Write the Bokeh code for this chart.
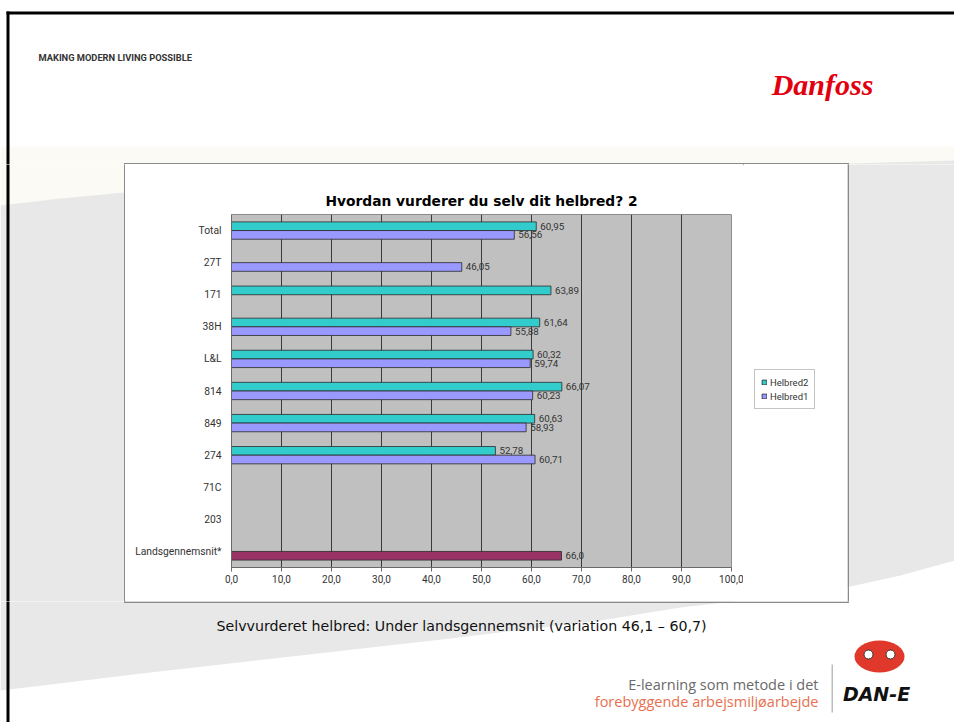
import numpy as np
from bokeh.plotting import figure
from bokeh.layouts import column, row
from bokeh.models import (FactorRange, Range1d, ColumnDataSource, LabelSet, Legend, LegendItem,
                          FixedTicker)
from bokeh.transform import dodge
from bokeh.core.properties import value
from bokeh.embed import file_html
from bokeh.resources import INLINE

# ---------------- data ----------------
categories = ["Total", "27T", "171", "38H", "L&L", "814", "849", "274", "71C", "203", "Landsgennemsnit*"]
helbred2 = [60.95, None, 63.89, 61.64, 60.32, 66.07, 60.63, 52.78, None, None, None]
helbred1 = [56.56, 46.05, None, 55.88, 59.74, 60.23, 58.93, 60.71, None, None, None]
landsgennemsnit = [None, None, None, None, None, None, None, None, None, None, 66.0]
x_ticks = [0, 10, 20, 30, 40, 50, 60, 70, 80, 90, 100]
x_tick_labels = ["0,0", "10,0", "20,0", "30,0", "40,0", "50,0", "60,0", "70,0", "80,0", "90,0", "100,0"]
series_names = ["Helbred2", "Helbred1"]
series_colors = ["#33CCCC", "#9999FF"]
land_color = "#993366"

title_text = "Hvordan vurderer du selv dit helbred? 2"
subtitle_text = "Selvvurderet helbred: Under landsgennemsnit (variation 46,1 \u2013 60,7)"
header_text = "MAKING MODERN LIVING POSSIBLE"
logo_text = "Danfoss"
footer_line1 = "E-learning som metode i det"
footer_line2 = "forebyggende arbejsmiljøarbejde"
dane_text = "DAN-E"


def make_source(vals, decimals):
    cats, v, lbl = [], [], []
    for c, x in zip(categories, vals):
        if x is not None:
            cats.append(c)
            v.append(x)
            lbl.append(f"{x:.{decimals}f}".replace(".", ","))
    return ColumnDataSource(dict(cat=cats, val=v, lbl=lbl))


src2 = make_source(helbred2, 2)
src1 = make_source(helbred1, 2)
srcL = make_source(landsgennemsnit, 1)

PAGE_W, PAGE_H = 954, 722
# chart box (page pixels)
BX0, BX1, BY0, BY1 = 125, 847, 164, 601
MAIN_X1 = 743  # right edge of the main chart canvas

# ---------------- main chart ----------------
p = figure(width=MAIN_X1 - BX0, height=BY1 - BY0,
           y_range=FactorRange(factors=categories[::-1]), x_range=Range1d(0, 100),
           output_backend="svg", toolbar_location=None,
           min_border_left=106, min_border_right=12, min_border_top=50, min_border_bottom=34)
p.frame_align = False
p.background_fill_color = "#C0C0C0"
p.border_fill_color = "white"
p.outline_line_color = "#8c8c8c"

p.title.text = title_text
p.title.align = "center"
p.title.offset = -5
p.title.standoff = 12
p.title.text_font = "DejaVu Sans"
p.title.text_font_size = "13.8px"
p.title.text_font_style = "bold"
p.title.text_color = "#000000"

p.xaxis.ticker = FixedTicker(ticks=x_ticks)
p.xaxis.major_label_overrides = {t: l for t, l in zip(x_ticks, x_tick_labels)}
p.xaxis.major_label_text_font = "Roboto"
p.xaxis.major_label_text_font_size = "10px"
p.xaxis.major_label_text_color = "#333333"
p.xaxis.axis_line_color = "#6a6a6a"
p.xaxis.major_tick_line_color = "#6a6a6a"
p.xaxis.major_tick_out = 4
p.xaxis.major_tick_in = 0
p.xaxis.minor_tick_line_color = None
p.xaxis.major_label_standoff = 3

p.yaxis.major_label_text_font = "Roboto"
p.yaxis.major_label_text_font_size = "10.3px"
p.yaxis.major_label_text_color = "#333333"
p.yaxis.axis_line_color = "#6a6a6a"
p.yaxis.major_tick_line_color = None
p.yaxis.major_tick_out = 0
p.yaxis.major_label_standoff = 10

p.xgrid.ticker = FixedTicker(ticks=x_ticks)
p.xgrid.grid_line_color = "#3a3a3a"
p.xgrid.grid_line_width = 1
p.ygrid.grid_line_color = None

BH = 0.27
OFF = 0.135
r2 = p.hbar(y=dodge("cat", OFF, range=p.y_range), left=0, right="val", height=BH,
            fill_color=series_colors[0], line_color="#2a2a2a", line_width=0.8, source=src2)
r1 = p.hbar(y=dodge("cat", -OFF, range=p.y_range), left=0, right="val", height=BH,
            fill_color=series_colors[1], line_color="#2a2a2a", line_width=0.8, source=src1)
rL = p.hbar(y=dodge("cat", -OFF, range=p.y_range), left=0, right="val", height=BH,
            fill_color=land_color, line_color="#2a2a2a", line_width=0.8, source=srcL)

for src, off in ((src2, OFF), (src1, -OFF), (srcL, -OFF)):
    p.add_layout(LabelSet(x="val", y=dodge("cat", off, range=p.y_range), text="lbl", source=src,
                          x_offset=4, text_baseline="middle", text_align="left",
                          text_font=value("Roboto"), text_font_size="9.8px", text_color="#333333"))

# ---------------- slide decoration (page pixel coordinates) ----------------
sw_x = [0, 60, 125, 400, 847, 954, 954, 900, 850, 760, 680, 600, 450, 300, 150, 0]
sw_y = [205, 198, 192, 175, 163, 160, 560, 575, 586, 598, 607, 620, 638, 655, 672, 690]


def deco(x0, x1, y0, y1, background=True):
    f = figure(width=x1 - x0, height=y1 - y0, x_range=Range1d(x0, x1), y_range=Range1d(y1, y0),
               output_backend="svg", toolbar_location=None, x_axis_type=None, y_axis_type=None,
               min_border_left=0, min_border_right=0, min_border_top=0, min_border_bottom=0)
    f.frame_align = False
    f.outline_line_color = None
    f.background_fill_color = "white"
    f.border_fill_color = "white"
    if background:
        # faint cream band
        f.quad(left=[0], right=[PAGE_W], top=[146], bottom=[215], fill_color="#FBFAF4", line_color=None)
        # grey swoosh
        f.patch(x=sw_x, y=sw_y, fill_color="#E8E8E8", line_color=None)
        # slide border (black)
        f.quad(left=[6, 6], right=[9, PAGE_W], top=[11, 11], bottom=[PAGE_H, 14],
               fill_color="black", line_color=None)
        # chart box frame line
        f.quad(left=[BX0 - 1.5, BX1, BX0 - 1.5, BX0 - 1.5], right=[BX0, BX1 + 1.5, BX1 + 1.5, BX1 + 1.5],
               top=[BY0 - 1.5, BY0 - 1.5, BY0 - 1.5, BY1], bottom=[BY1 + 1.5, BY1 + 1.5, BY0, BY1 + 1.5],
               fill_color="#8a8a8a", line_color=None)
    return f


def txt(f, x, y, s, font, size, color, align="left", style="normal"):
    f.text(x=[x], y=[y], text=[s], text_font=value(font), text_font_size=size,
           text_color=color, text_align=align, text_baseline="middle", text_font_style=style)


# legend panel (white part of the chart box right of the plot)
lg = deco(MAIN_X1, BX1, BY0, BY1, background=False)
sw2 = lg.hbar(y=[0], left=[0], right=[0], height=1, fill_color=series_colors[0],
              line_color="#2a2a2a", line_width=0.8)
sw1 = lg.hbar(y=[0], left=[0], right=[0], height=1, fill_color=series_colors[1],
              line_color="#2a2a2a", line_width=0.8)
legend = Legend(items=[LegendItem(label=series_names[0], renderers=[sw2]),
                       LegendItem(label=series_names[1], renderers=[sw1])],
                location=(754 - MAIN_X1, BY1 - 409), margin=0,
                glyph_width=6, glyph_height=6, label_height=12, label_standoff=3,
                padding=6, spacing=2,
                label_text_font="Roboto", label_text_font_size="9.5px", label_text_color="#333333",
                border_line_color="#8a8a8a", background_fill_color="white", background_fill_alpha=1)
lg.add_layout(legend)

header = deco(0, PAGE_W, 0, BY0)
txt(header, 38, 57, header_text, "Roboto", "9.3px", "#333333", style="bold")
txt(header, 822, 84, logo_text, "Liberation Serif", "30px", "#E2000F", align="center",
    style="bold italic")

left = deco(0, BX0, BY0, BY1)
right = deco(BX1, PAGE_W, BY0, BY1)

footer = deco(0, PAGE_W, BY1, PAGE_H)
txt(footer, 216, 625, subtitle_text, "DejaVu Sans", "14.2px", "#111111")
txt(footer, 818, 684, footer_line1, "Open Sans", "14.5px", "#6a6a6a", align="right")
txt(footer, 818, 701, footer_line2, "Open Sans", "14.5px", "#E8704F", align="right")
footer.quad(left=[831], right=[832.5], top=[664], bottom=[712], fill_color="#bdbdbd", line_color=None)
footer.ellipse(x=[879], y=[656], width=[50], height=[32], fill_color="#E0392C", line_color=None)
footer.scatter(x=[868, 890], y=[654, 654], size=9, fill_color="white", line_color="#333333",
               line_width=1)
txt(footer, 876, 693, dane_text, "DejaVu Sans", "19px", "#111111", align="center",
    style="bold italic")

layout = column(header, row(left, p, lg, right, spacing=0), footer, spacing=0)

open("out.html", "w").write(file_html(layout, INLINE))
